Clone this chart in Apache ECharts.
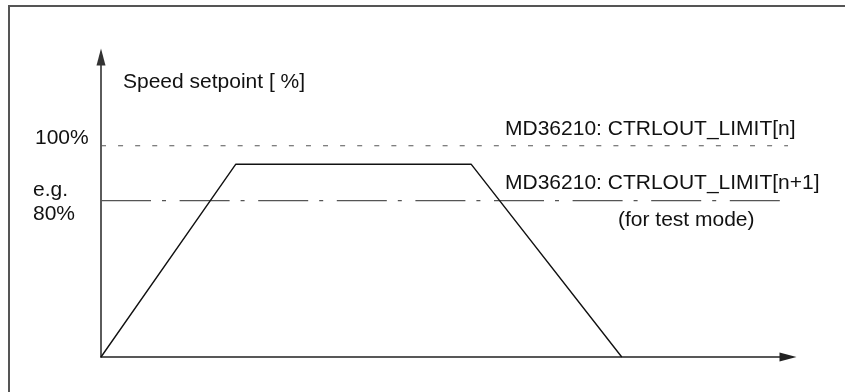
<!DOCTYPE html>
<html lang="en">
<head>
<meta charset="UTF-8">
<title>Speed setpoint</title>
<style>
  html, body { margin: 0; padding: 0; background: #fff; }
  #main { width: 845px; height: 392px; }
</style>
</head>
<body>
<div id="main"></div>
<script src="https://cdn.jsdelivr.net/npm/echarts/dist/echarts.min.js"></script>
<script>
// time in arbitrary units (0..100), speed setpoint in %
var profileTime  = [0, 19.6, 53.9, 75.8];
var profileSpeed = [0, 91.2, 91.2, 0];
var limitN       = 100;   // MD36210: CTRLOUT_LIMIT[n]
var limitN1      = 74;    // MD36210: CTRLOUT_LIMIT[n+1]  (drawn as "e.g. 80%")
var limitNEnd    = 100;
var limitN1End   = 101.2;
var xMax = 100, yMax = 142;

var yTitle    = 'Speed setpoint [ %]';
var label100  = '100%';
var labelEg   = 'e.g.';
var label80   = '80%';
var labelN    = 'MD36210: CTRLOUT_LIMIT[n]';
var labelN1   = 'MD36210: CTRLOUT_LIMIT[n+1]';
var labelTest = '(for test mode)';

var FONT = '21px "Liberation Sans", Arial, sans-serif';

var profile = [];
for (var i = 0; i < profileTime.length; i++) {
  profile.push([profileTime[i], profileSpeed[i]]);
}

var myChart = echarts.init(document.getElementById('main'));
var option = {
  animation: false,
  grid: { left: 101, right: 57, top: 57, bottom: 35 },
  xAxis: {
    type: 'value', min: 0, max: xMax,
    axisLine: { show: true, symbol: ['none', 'triangle'], symbolSize: [9, 17],
                lineStyle: { color: '#222', width: 1.6 } },
    axisTick: { show: false }, axisLabel: { show: false }, splitLine: { show: false }
  },
  yAxis: {
    type: 'value', min: 0, max: yMax,
    axisLine: { show: true, symbol: ['none', 'triangle'], symbolSize: [9, 17],
                lineStyle: { color: '#333', width: 1.6 } },
    axisTick: { show: false }, axisLabel: { show: false }, splitLine: { show: false }
  },
  series: [
    {
      name: 'limit n', type: 'line', clip: false, silent: true, symbol: 'none',
      data: [[0, limitN], [limitNEnd, limitN]],
      lineStyle: { color: '#555', width: 1.2, type: [5, 12.08] }
    },
    {
      name: 'limit n+1', type: 'line', clip: false, silent: true, symbol: 'none',
      data: [[0, limitN1], [limitN1End, limitN1]],
      lineStyle: { color: '#555', width: 1.3, type: [50, 11, 4, 13.6] }
    },
    {
      name: 'setpoint', type: 'line', clip: false, silent: true, symbol: 'none',
      data: profile,
      lineStyle: { color: '#111', width: 1.4 }
    }
  ]
};
myChart.setOption(option);

// annotations anchored to the data positions
var o    = myChart.convertToPixel({ gridIndex: 0 }, [0, 0]);
var p100 = myChart.convertToPixel({ gridIndex: 0 }, [0, limitN]);
var p74  = myChart.convertToPixel({ gridIndex: 0 }, [0, limitN1]);

function txt(s, x, y) {
  return { type: 'text', x: x, y: y, silent: true,
           style: { text: s, font: FONT, fill: '#111', align: 'left', verticalAlign: 'middle' } };
}

myChart.setOption({
  graphic: [
    { type: 'polyline', silent: true,
      shape: { points: [[9, 392], [9, 6], [845, 6]] },
      style: { stroke: '#555', lineWidth: 2, fill: null } },
    txt(yTitle, o[0] + 22, 82),
    txt(label100, 35, p100[1] - 8),
    txt(labelEg, 33, p74[1] - 10),
    txt(label80, 33, p74[1] + 13.5),
    txt(labelN, 505, p100[1] - 17),
    txt(labelN1, 505, p74[1] - 17),
    txt(labelTest, 618, p74[1] + 20)
  ]
});
</script>
</body>
</html>
